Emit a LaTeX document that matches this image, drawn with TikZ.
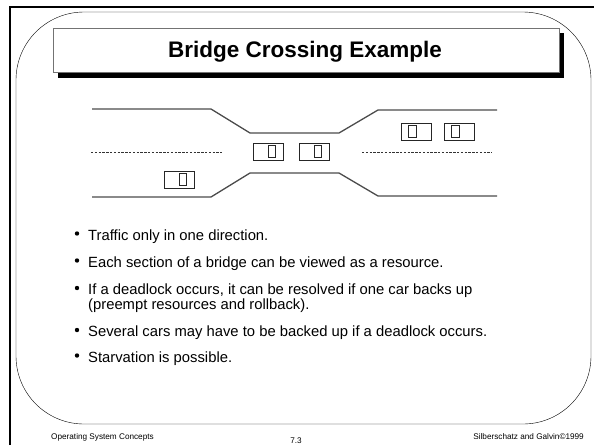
\documentclass[tikz,border=0pt]{standalone}
\usepackage{fontspec}
\setmainfont{Liberation Sans}
\begin{document}
\begin{tikzpicture}[x=1pt, y=-1pt,
  bulletdot/.style={circle, fill=black, inner sep=0pt, minimum size=4.4pt},
  itemtext/.style={anchor=base west, inner sep=0pt, font=\fontsize{14.8}{16}\selectfont},
  foottext/.style={inner sep=0pt, font=\fontsize{8.2}{9}\selectfont},
  road/.style={line width=1.3pt, black!70},
  lane/.style={line width=0.8pt, black!80, dash pattern=on 2.4pt off 1.4pt},
  carbox/.style={line width=0.8pt, black!85}]
\useasboundingbox (0,0) rectangle (594,445);
\draw [line width=2pt](10,445)--(10,7)--(594,7);
\draw [rounded corners=68pt](16,12) rectangle (591,424);

\fill (58,33) rectangle (564,78);
\draw [fill=white, draw=black!55, line width=1pt](53,28) rectangle (559,72);
\node [anchor=base, inner sep=0pt] (title) at (305,57.5) {\fontsize{22.5}{26}\selectfont\bfseries Bridge Crossing Example};

\draw [road](92,109)--(211,109)--(250,133)--(339,133)--(378,110)--(497,110);
\draw [road](92,197)--(211,197)--(250,173)--(339,173)--(378,196)--(497,196);
\draw [lane](91,152)--(222,152);
\draw [lane](362,152)--(492,152);

\foreach \x/\y in {164/171, 253/143, 299/143}
{
  \draw [carbox](\x,\y) rectangle ++(30,17);
  \draw [carbox](\x+15,\y+2.5) rectangle ++(7.5,12);
}
\foreach \x/\y in {401/123, 444/123}
{
  \draw [carbox](\x,\y) rectangle ++(30,17);
  \draw [carbox](\x+7.5,\y+2.5) rectangle ++(7.5,12);
}

\foreach \b [count=\i] in {240,267,294.5,336.5,362}
{
  \node [bulletdot] (dot\i) at (77,\b-6.5) {};
}
\node [itemtext] (item1) at (88,240) {Traffic only in one direction.};
\node [itemtext] (item2) at (88,267) {Each section of a bridge can be viewed as a resource.};
\node [itemtext] (item3) at (88,294.5) {If a deadlock occurs, it can be resolved if one car backs up};
\node [itemtext] (item3b) at (88,309) {(preempt resources and rollback).};
\node [itemtext] (item4) at (88,336.5) {Several cars may have to be backed up if a deadlock occurs.};
\node [itemtext] (item5) at (88,362) {Starvation is possible.};

\node [foottext, anchor=base west] (course) at (51,439.5) {Operating System Concepts};
\node [foottext, anchor=base] (page) at (296,443.5) {7.3};
\node [foottext, anchor=base east] (authors) at (584,439.5) {Silberschatz and Galvin©1999};
\end{tikzpicture}
\end{document}
